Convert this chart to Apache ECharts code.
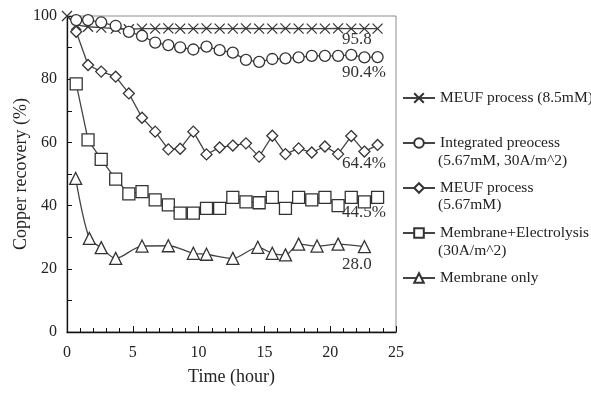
<!DOCTYPE html>
<html>
<head>
<meta charset="utf-8">
<script src="https://cdn.jsdelivr.net/npm/echarts@6/dist/echarts.min.js"></script>
<style>
  html, body { margin: 0; padding: 0; background: #ffffff; }
  #chart { width: 591px; height: 396px; }
</style>
</head>
<body>
<div id="chart"></div>
<script>
// Sampling times (hour) shared by most runs
const hours = [0.7, 1.6, 2.6, 3.7, 4.7, 5.7, 6.7, 7.7, 8.6, 9.6, 10.6, 11.6,
               12.6, 13.6, 14.6, 15.6, 16.6, 17.6, 18.6, 19.6, 20.6, 21.6, 22.6, 23.6];

// MEUF process (8.5mM) also has the starting point at t = 0
const meuf85Hours = [0].concat(hours);
const meuf85 = [100, 97.2, 96.6, 96.3, 96.0, 95.8, 96.0, 96.0, 96.1, 96.0, 96.0, 96.1, 96.0,
                96.0, 96.1, 96.0, 96.0, 96.1, 96.0, 96.0, 96.0, 96.1, 96.0, 96.0, 96.0];

const integrated = [98.7, 98.7, 98.0, 96.9, 95.0, 93.7, 91.6, 90.8, 90.1, 89.4, 90.3, 89.2,
                    88.4, 86.1, 85.5, 86.4, 86.6, 86.9, 87.4, 87.4, 87.4, 87.7, 86.9, 87.0];

const meuf567 = [95.0, 84.5, 82.4, 80.8, 75.5, 67.8, 63.4, 57.8, 58.0, 63.4, 56.2, 58.4,
                 59.0, 59.7, 55.5, 62.1, 56.3, 58.1, 56.8, 58.7, 56.3, 62.0, 57.1, 59.2];

const membElectro = [78.5, 60.8, 54.6, 48.4, 43.7, 44.4, 41.8, 40.2, 37.6, 37.6, 39.1, 39.1,
                     42.6, 41.2, 40.9, 42.6, 39.1, 42.6, 41.8, 42.6, 40.0, 42.6, 41.2, 42.6];

// Membrane only was sampled less often
const membOnlyHours = [0.66, 1.7, 2.6, 3.7, 5.7, 7.7, 9.6, 10.6, 12.6, 14.5, 15.6, 16.6, 17.6, 19.0, 20.6, 22.6];
const membOnly = [48.6, 29.6, 26.7, 23.3, 27.2, 27.3, 24.9, 24.6, 23.3, 26.8, 24.9, 24.4, 27.8, 27.2, 27.8, 27.0];

// Names as shown in the legend (first line) and their continuation lines
const seriesNames = ['MEUF process (8.5mM)', 'Integrated preocess', 'MEUF process', 'Membrane+Electrolysis', 'Membrane only'];
const nameSecondLines = ['', '(5.67mM, 30A/m^2)', '(5.67mM)', '(30A/m^2)', ''];

// Summary values written at the right end of the curves
const endNotes = ['95.8', '90.4%', '64.4%', '44.5%', '28.0'];

const xTicks = { min: 0, max: 25, step: 5 };
const yTicks = { min: 0, max: 100, step: 10, labelEvery: 20 };

const ink = '#333333';
const serif = '"Liberation Serif", "Times New Roman", serif';

function pairs(xs, ys) { return xs.map((x, i) => [x, ys[i]]); }

function lineSeries(name, data, symbol, size, extra) {
  return Object.assign({
    name: name,
    type: 'line',
    data: data,
    symbol: symbol,
    symbolSize: size,
    showAllSymbol: true,
    lineStyle: { color: '#444444', width: 1.3 },
    itemStyle: { color: '#ffffff', borderColor: ink, borderWidth: 1.3 },
    emphasis: { disabled: true },
    z: 3
  }, extra || {});
}

const chart = echarts.init(document.getElementById('chart'), null, { renderer: 'canvas' });

const noteY = [40, 73, 164, 213, 265];
const secondLineY = [0, 161, 205, 251, 0];

const graphics = [];
endNotes.forEach((t, i) => {
  graphics.push({
    type: 'text', left: 342, top: noteY[i] - 9,
    style: { text: t, font: '17px ' + serif, fill: '#333' }
  });
});
nameSecondLines.forEach((t, i) => {
  if (!t) return;
  graphics.push({
    type: 'text', left: 438, top: secondLineY[i] - 8,
    style: { text: t, font: '15.5px ' + serif, fill: '#222' }
  });
});

chart.setOption({
  animation: false,
  backgroundColor: '#ffffff',
  textStyle: { fontFamily: serif },
  grid: {
    left: 67, top: 16, right: 195, bottom: 64,
    outerBoundsMode: 'none',
    show: true, borderColor: '#8c8c8c', borderWidth: 1, backgroundColor: 'transparent'
  },
  legend: {
    orient: 'vertical',
    left: 402, top: 90, padding: 0,
    itemWidth: 32, itemHeight: 12, itemGap: 29,
    data: seriesNames,
    selectedMode: false,
    textStyle: { fontFamily: serif, fontSize: 15.5, color: '#222' }
  },
  xAxis: {
    type: 'value',
    min: xTicks.min, max: xTicks.max, interval: xTicks.step,
    name: 'Time (hour)',
    nameLocation: 'middle', nameGap: 36,
    nameTextStyle: { fontFamily: serif, fontSize: 18, color: '#222' },
    axisLine: { onZero: false, lineStyle: { color: '#111', width: 1.3 } },
    axisTick: { inside: true, length: 6, lineStyle: { color: '#111', width: 1 } },
    minorTick: { show: true, splitNumber: 5, length: 4, lineStyle: { color: '#111', width: 1 } },
    splitLine: { show: false },
    axisLabel: { margin: 13, fontFamily: serif, fontSize: 16, color: '#222' }
  },
  yAxis: {
    type: 'value',
    min: yTicks.min, max: yTicks.max, interval: yTicks.step,
    name: 'Copper recovery (%)',
    nameLocation: 'middle', nameGap: 37, nameMoveOverlap: false,
    nameTextStyle: { fontFamily: serif, fontSize: 18, color: '#222' },
    axisLine: { show: true, onZero: false, lineStyle: { color: '#111', width: 1.3 } },
    axisTick: { show: true, inside: true, length: 5, lineStyle: { color: '#111', width: 1 } },
    splitLine: { show: false },
    axisLabel: {
      margin: 10, fontFamily: serif, fontSize: 16, color: '#222',
      formatter: v => (v % yTicks.labelEvery === 0 ? String(v) : '')
    }
  },
  series: [
    lineSeries(seriesNames[0], pairs(meuf85Hours, meuf85), 'path://M0,0L10,10M10,0L0,10', 10,
      { itemStyle: { color: ink, borderColor: ink, borderWidth: 1.2 } }),
    lineSeries(seriesNames[1], pairs(hours, integrated), 'circle', 11),
    lineSeries(seriesNames[2], pairs(hours, meuf567), 'diamond', 11),
    lineSeries(seriesNames[3], pairs(hours, membElectro), 'rect', 12),
    lineSeries(seriesNames[4], pairs(membOnlyHours, membOnly), 'triangle', 12, { smooth: 0.3 })
  ],
  graphic: graphics
});
</script>
</body>
</html>
